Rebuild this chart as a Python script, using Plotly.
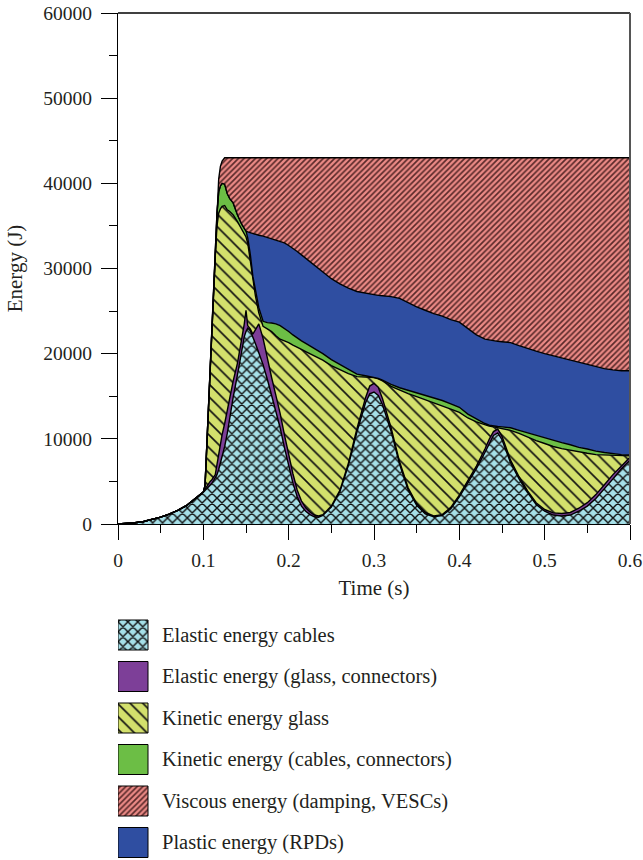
import plotly.graph_objects as go

# Time grid (s) shared by every energy component
time_s = [
    0, 0.01, 0.02, 0.03, 0.04, 0.05, 0.06, 0.07, 0.08, 0.09,
    0.1, 0.102, 0.104, 0.106, 0.108, 0.11, 0.112, 0.114, 0.116, 0.118,
    0.12, 0.122, 0.125, 0.128, 0.131, 0.135, 0.14, 0.145, 0.148, 0.15,
    0.152, 0.155, 0.158, 0.161, 0.165, 0.17, 0.175, 0.18, 0.185, 0.19,
    0.195, 0.2, 0.205, 0.21, 0.215, 0.22, 0.225, 0.23, 0.235, 0.24,
    0.25, 0.26, 0.27, 0.28, 0.29, 0.295, 0.3, 0.305, 0.31, 0.32,
    0.33, 0.34, 0.35, 0.36, 0.37, 0.38, 0.39, 0.4, 0.41, 0.42,
    0.43, 0.435, 0.44, 0.445, 0.45, 0.46, 0.47, 0.48, 0.49, 0.5,
    0.51, 0.52, 0.53, 0.54, 0.55, 0.56, 0.57, 0.58, 0.59, 0.6,
]

# Energy components (J), stacked bottom to top
elastic_cables = [
    0, 50, 150, 300, 520, 800, 1150, 1600, 2150, 2900,
    3750, 3950, 4150, 4350, 4550, 4800, 5100, 5400, 5800, 6400,
    7100, 7900, 9100, 10600, 12600, 14900, 17500, 20400, 22000, 22600,
    23000, 22700, 22000, 21200, 20100, 18700, 17000, 15200, 13300, 11300,
    9000, 6700, 4800, 3200, 2100, 1500, 1100, 850, 800, 1000,
    2000, 3800, 6900, 10800, 14200, 15300, 15500, 15100, 14000, 10900,
    7000, 4000, 2200, 1200, 850, 1000, 1800, 3200, 4800, 6500,
    8400, 9500, 10400, 10700, 9900, 7200, 5300, 3700, 2300, 1500,
    1050, 940, 1050, 1500, 2100, 3000, 4100, 5300, 6500, 7500,
]
elastic_glass = [
    0, 0, 0, 0, 0, 0, 0, 0, 0, 0,
    0, 150, 300, 400, 450, 400, 400, 400, 1200, 1900,
    2500, 2600, 2700, 2700, 2300, 1900, 1400, 1300, 1500, 2500,
    300, 200, 300, 1600, 3400, 3100, 2300, 2000, 1800, 1700,
    1500, 1300, 1100, 800, 600, 400, 300, 200, 150, 100,
    100, 150, 250, 400, 600, 900, 1000, 950, 700, 400,
    300, 250, 200, 150, 100, 100, 150, 200, 250, 300,
    400, 450, 450, 450, 400, 300, 250, 200, 200, 200,
    250, 300, 300, 350, 400, 450, 500, 500, 300, 350,
]
kinetic_glass = [
    0, 0, 0, 0, 0, 0, 0, 0, 0, 0,
    0, 400, 4550, 9750, 14000, 17300, 21500, 25700, 28000, 28200,
    27400, 26800, 25600, 23600, 21800, 19500, 16600, 12900, 10600, 8600,
    9700, 8100, 6200, 4000, 1300, 1400, 3600, 5400, 7000, 8700,
    11000, 13300, 15100, 16700, 17800, 18350, 18600, 18700, 18550, 18150,
    16500, 14150, 10500, 6100, 2450, 1050, 700, 1000, 2100, 4850,
    8400, 11050, 12550, 13250, 13300, 12800, 11550, 9700, 7400, 5200,
    2850, 1550, 550, 150, 900, 3500, 5100, 6300, 7300, 7750,
    7800, 7610, 7300, 6600, 5800, 4700, 3500, 2250, 1200, 150,
]
kinetic_cables = [
    0, 0, 0, 0, 0, 0, 0, 0, 0, 0,
    0, 0, 0, 0, 0, 0, 0, 500, 1500, 2500,
    2700, 2700, 2500, 1900, 1500, 1400, 800, 600, 600, 700,
    600, 700, 600, 600, 600, 600, 750, 1000, 1400, 1600,
    1500, 1300, 1200, 1100, 1000, 950, 900, 850, 800, 750,
    700, 600, 450, 300, 150, 50, 50, 50, 100, 250,
    300, 400, 450, 500, 550, 600, 600, 600, 450, 300,
    150, 100, 100, 150, 200, 300, 350, 500, 600, 650,
    700, 700, 650, 550, 500, 400, 300, 200, 150, 100,
]
plastic = [
    0, 0, 0, 0, 0, 0, 0, 0, 0, 0,
    0, 0, 0, 0, 0, 0, 0, 0, 0, 0,
    0, 0, 0, 0, 0, 0, 0, 0, 0, 0,
    700, 2500, 5000, 6600, 8500, 10000, 10000, 9900, 9850, 9900,
    10000, 10100, 10200, 10200, 10100, 10000, 9850, 9700, 9600, 9500,
    9500, 9500, 9600, 9700, 9700, 9700, 9650, 9750, 9900, 10300,
    10500, 10300, 10100, 10000, 9900, 9900, 9900, 10000, 10100, 9900,
    9900, 10000, 10000, 10000, 10000, 10000, 9950, 9900, 9900, 9900,
    9950, 10000, 10000, 10050, 10000, 9950, 9850, 9850, 9850, 9900,
]
viscous = [
    0, 0, 0, 0, 0, 0, 0, 0, 0, 0,
    0, 0, 0, 0, 0, 0, 0, 0, 500, 1500,
    2300, 2600, 3100, 4200, 4800, 5300, 6700, 7800, 8300, 8600,
    8700, 8800, 8900, 9000, 9100, 9200, 9350, 9500, 9650, 9800,
    10000, 10300, 10600, 11000, 11400, 11800, 12250, 12700, 13100, 13500,
    14200, 14800, 15300, 15700, 15900, 16000, 16100, 16150, 16200, 16300,
    16500, 17000, 17500, 17900, 18300, 18600, 19000, 19300, 20000, 20800,
    21300, 21400, 21500, 21550, 21600, 21700, 22050, 22400, 22700, 23000,
    23250, 23450, 23700, 23950, 24200, 24500, 24750, 24900, 25000, 25000,
]

x_ticks = [0, 0.1, 0.2, 0.3, 0.4, 0.5, 0.6]
x_tick_text = ["0", "0.1", "0.2", "0.3", "0.4", "0.5", "0.6"]
y_ticks = [0, 10000, 20000, 30000, 40000, 50000, 60000]

FONT = "Liberation Serif"
INK = "#231f20"

# name, values, base colour, pattern shape, pattern colour, pattern size, solidity
layers = [
    ("Elastic energy cables", elastic_cables, "#a6e0e8", "x", "#111111", 7, 0.36),
    ("Elastic energy (glass, connectors)", elastic_glass, "#7d3f98", "", None, None, None),
    ("Kinetic energy glass", kinetic_glass, "#d3e06c", "\\", "#111111", 9, 0.18),
    ("Kinetic energy (cables, connectors)", kinetic_cables, "#6cbe45", "", None, None, None),
    ("Viscous energy (damping, VESCs)", viscous, "#ec8a86", "/", "#5a2a2a", 4, 0.42),
    ("Plastic energy (RPDs)", plastic, "#2f4ea1", "", None, None, None),
]

# stacking order on the chart (bottom -> top)
stack_order = [0, 1, 2, 3, 5, 4]

fig = go.Figure()


def pattern_for(layer):
    _, _, base, shape, fg, size, sol = layer
    if not shape:
        return None
    return dict(shape=shape, fgcolor=fg, bgcolor=base, size=size,
                solidity=sol, fillmode="replace")


for idx in stack_order:
    layer = layers[idx]
    name, values, base = layer[0], layer[1], layer[2]
    pat = pattern_for(layer)
    kw = dict(fillpattern=pat) if pat else {}
    fig.add_trace(go.Scatter(
        x=time_s, y=values, name=name, mode="lines", stackgroup="energy",
        line=dict(color="#000000", width=1.4), fillcolor=base,
        showlegend=False, hoverinfo="skip", xaxis="x", yaxis="y", **kw,
    ))

# Page geometry (px)
W, H = 643, 860
plot_l, plot_r, plot_t, plot_b = 118, 630, 13, 524
area_h = H - plot_t  # drawing area runs from the top margin to the page bottom

# Legend drawn in its own pixel-scaled axes below the chart
legend_top = 602
sw_x0, sw_size = 118, 30
row_first, row_step = 620, 41.5
text_x = 160

for i, layer in enumerate(layers):
    name, base = layer[0], layer[2]
    top = row_first + i * row_step
    pat = pattern_for(layer)
    kw = dict(fillpattern=pat) if pat else {}
    fig.add_trace(go.Scatter(
        x=[sw_x0, sw_x0 + sw_size, sw_x0 + sw_size, sw_x0, sw_x0],
        y=[top, top, top + sw_size, top + sw_size, top],
        mode="lines", fill="toself", fillcolor=base,
        line=dict(color="#000000", width=1), showlegend=False,
        hoverinfo="skip", xaxis="x2", yaxis="y2", **kw,
    ))
    fig.add_annotation(
        x=text_x, y=top + sw_size / 2, xref="x2", yref="y2", text=name,
        showarrow=False, xanchor="left", yanchor="middle",
        font=dict(family=FONT, size=20.5, color=INK),
    )

fig.update_layout(
    width=W, height=H,
    margin=dict(l=plot_l, r=W - plot_r, t=plot_t, b=0, autoexpand=False),
    paper_bgcolor="white", plot_bgcolor="white",
    font=dict(family=FONT, color=INK, size=19),
    showlegend=False,
    xaxis=dict(
        domain=[0, 1], range=[0, 0.6], automargin=False,
        tickvals=x_ticks, ticktext=x_tick_text,
        ticks="outside", ticklen=15, tickwidth=1.3, tickcolor="#000000",
        ticklabelstandoff=3,
        minor=dict(dtick=0.05, tick0=0, ticks="outside", ticklen=8,
                   tickwidth=1.3, tickcolor="#000000"),
        showline=True, linecolor="#000000", linewidth=1.3, mirror=False,
        showgrid=False, zeroline=False,
        tickfont=dict(family=FONT, size=19.5, color=INK),
        title=dict(text="Time (s)", standoff=10,
                   font=dict(family=FONT, size=21, color=INK)),
        anchor="y",
    ),
    yaxis=dict(
        domain=[(H - plot_b) / area_h, 1], range=[0, 60000], automargin=False,
        tickvals=y_ticks, tickformat="d",
        ticks="outside", ticklen=16, tickwidth=1.3, tickcolor="#000000",
        ticklabelstandoff=5,
        minor=dict(dtick=5000, tick0=0, ticks="outside", ticklen=8,
                   tickwidth=1.3, tickcolor="#000000"),
        showline=True, linecolor="#000000", linewidth=1.3,
        showgrid=False, zeroline=False,
        tickfont=dict(family=FONT, size=19.5, color=INK),
        title=dict(text="Energy (J)", standoff=14,
                   font=dict(family=FONT, size=21, color=INK)),
        anchor="x",
    ),
    xaxis2=dict(domain=[0, 1], range=[plot_l, plot_r], visible=False,
                fixedrange=True, anchor="y2"),
    yaxis2=dict(domain=[0, (H - legend_top) / area_h], range=[H, legend_top],
                visible=False, fixedrange=True, anchor="x2"),
    shapes=[
        # frame: top edge and right edge of the plotting area
        dict(type="line", xref="x domain", yref="y domain", x0=0, x1=1,
             y0=1, y1=1, line=dict(color="#000000", width=1.3)),
        dict(type="line", xref="x domain", yref="y domain", x0=1, x1=1,
             y0=0, y1=1, line=dict(color="#555555", width=2)),
    ],
)

fig.write_html("out.html")
